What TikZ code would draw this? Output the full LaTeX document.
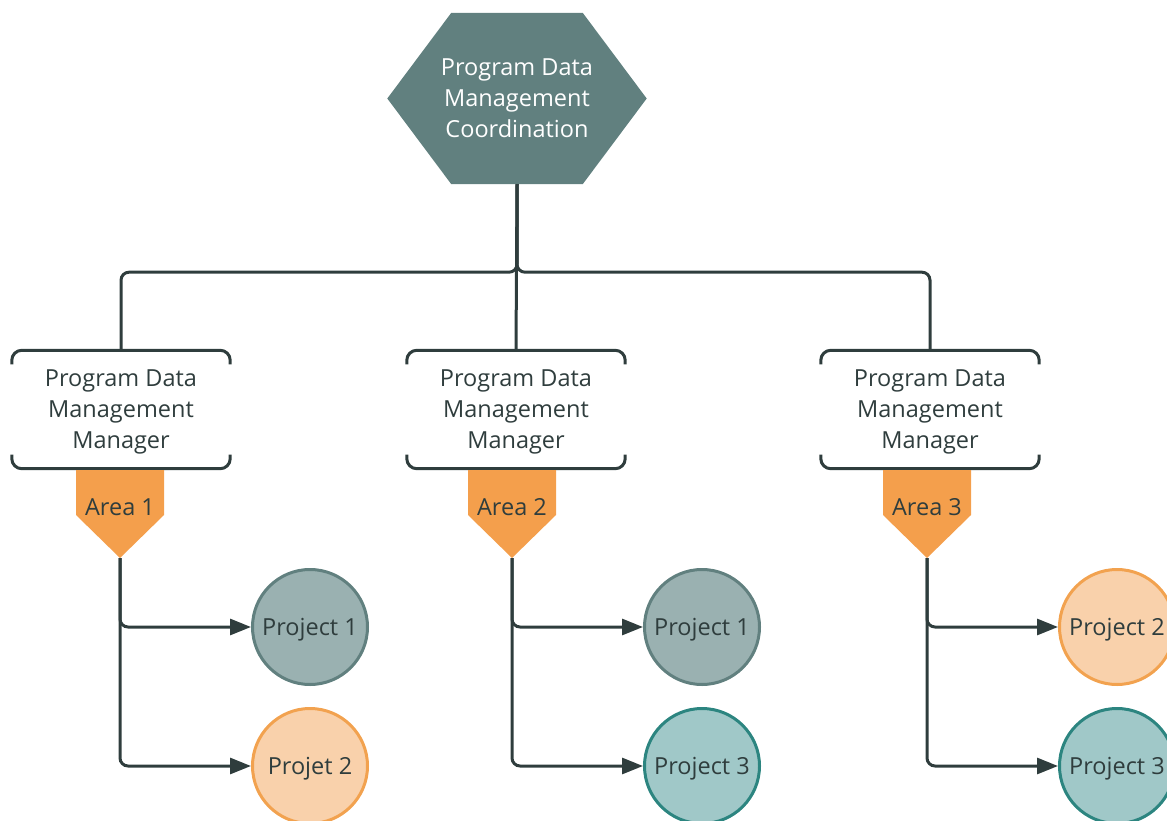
\documentclass[tikz,border=0pt]{standalone}
\usepackage{fontspec}
\setmainfont{Open Sans}
\usetikzlibrary{arrows.meta, positioning, backgrounds}

\definecolor{slate}{HTML}{61807F}
\definecolor{ink}{HTML}{2F3D3D}
\definecolor{tagorange}{HTML}{F49F4C}
\definecolor{grayfill}{HTML}{9AB1B1}
\definecolor{orangefill}{HTML}{F9D1AB}
\definecolor{orangeline}{HTML}{F2A24F}
\definecolor{tealfill}{HTML}{A0C8C8}
\definecolor{tealline}{HTML}{2C8580}

\begin{document}
\begin{tikzpicture}[x=1pt, y=-1pt,
    lbl/.style={font=\fontsize{23.5}{31}\selectfont, align=center, text=ink},
    manager/.style={lbl, text depth=0pt, minimum width=218pt, minimum height=118pt, inner sep=0pt},
    bracket/.style={draw=ink, line width=3pt, rounded corners=10pt},
    link/.style={draw=ink, line width=3pt, rounded corners=8pt},
    feed/.style={link, -{Triangle[length=21pt, width=16pt]}},
    project/.style={lbl, text height=22.8pt, circle, line width=3pt, minimum size=115pt, inner sep=0pt},
    projgray/.style={project, fill=grayfill, draw=slate},
    projorange/.style={project, fill=orangefill, draw=orangeline},
    projteal/.style={project, fill=tealfill, draw=tealline}
]
\useasboundingbox (0,0) rectangle (1167,821);

% coordination hexagon
\node[lbl, text=white, minimum width=259pt, minimum height=171pt, inner sep=0pt]
    (coord) at (517,98.5) {Program Data\\Management\\Coordination};
\begin{pgfonlayer}{background}
\fill[slate] (coord.west) -- ([xshift=64pt]coord.north west) -- ([xshift=-64pt]coord.north east)
    -- (coord.east) -- ([xshift=-64pt]coord.south east) -- ([xshift=64pt]coord.south west) -- cycle;
\end{pgfonlayer}

% managers
\node[manager] (mgr1) at (121,409.5) {Program Data\\Management\\Manager};
\node[manager] (mgr2) at (516,409.5) {Program Data\\Management\\Manager};
\node[manager] (mgr3) at (930,409.5) {Program Data\\Management\\Manager};
\foreach \m in {mgr1, mgr2, mgr3} {
    \draw[bracket] ([yshift=-14pt]\m.north west) -- (\m.north west) -- (\m.north east) -- ([yshift=-14pt]\m.north east);
    \draw[bracket] ([yshift=14pt]\m.south west) -- (\m.south west) -- (\m.south east) -- ([yshift=14pt]\m.south east);
}

% area tags
\foreach \x/\n in {120/1, 512/2, 927/3} {
    \fill[tagorange] (\x-44,470) -- (\x+44,470) -- (\x+44,515) -- (\x,558) coordinate (tip\n) -- (\x-44,515) -- cycle;
    \node[lbl] (area\n) at (\x,507) {Area \n};
}

% projects
\node[projgray]   (p11) at (310,627)  {Project 1};
\node[projorange] (p12) at (310,766)  {Projet 2};
\node[projgray]   (p21) at (702,627)  {Project 1};
\node[projteal]   (p22) at (702,766)  {Project 3};
\node[projorange] (p31) at (1117,627) {Project 2};
\node[projteal]   (p32) at (1117,766) {Project 3};

% connectors
\draw[link] (coord.south) -- ++(0,88) -| (mgr1.north);
\draw[link] (coord.south) -- ++(0,88) -| (mgr3.north);
\draw[link] (coord.south) -- (mgr2.north);
\foreach \n in {1,2,3} {
    \draw[feed] (tip\n) |- (p\n1);
    \draw[feed] (tip\n) |- (p\n2);
}
\end{tikzpicture}
\end{document}
